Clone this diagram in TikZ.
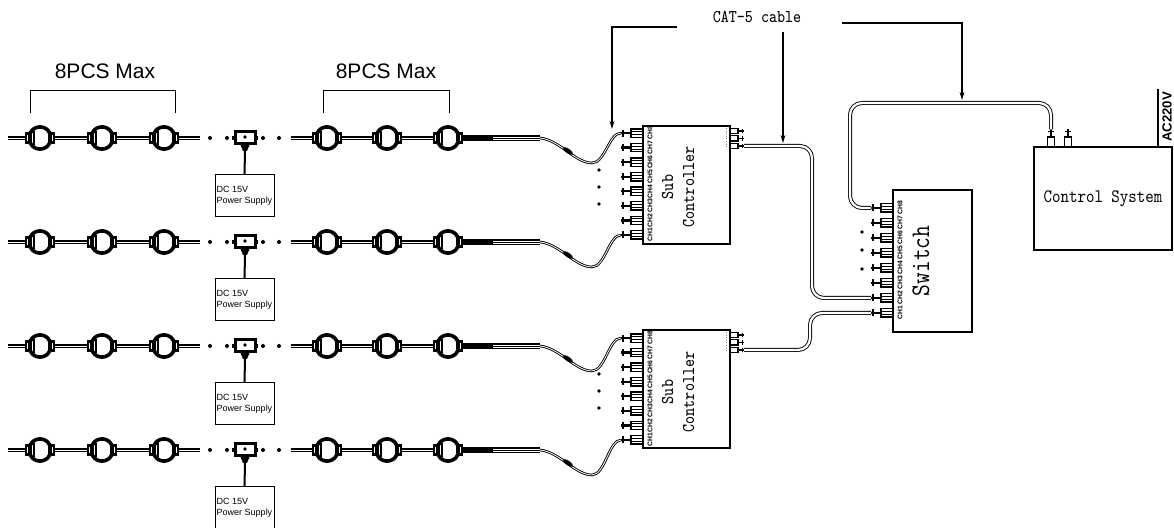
\documentclass[tikz,border=0pt]{standalone}
\usepackage{fontspec}
\usepackage{graphicx}
\usetikzlibrary{arrows.meta}
\newfontfamily\arialfont{Liberation Sans}
\newcommand{\narrowtxt}[1]{\scalebox{0.85}[1]{#1}}
\tikzstyle{psbox} = [draw, line width=0.5pt, minimum width=29.5pt, minimum height=21pt,
    inner sep=0.6pt, align=left, font=\arialfont\fontsize{4.5}{5.5}\selectfont]
\tikzstyle{devbox} = [draw, line width=0.8pt, inner sep=0pt]
\tikzstyle{devtitle} = [font=\ttfamily\fontsize{9}{10.5}\selectfont, align=center, inner sep=0pt]
\tikzstyle{chlabel} = [font=\arialfont\bfseries\fontsize{3.4}{3.4}\selectfont, rotate=90, inner sep=0pt]
\tikzstyle{countlabel} = [font=\arialfont\fontsize{10.5}{12}\selectfont]
\tikzstyle{strand} = [line width=1pt, double=white, double distance=0.4pt]
\tikzstyle{wire} = [line width=0.45pt, double=white, double distance=0.4pt]
\tikzstyle{cable} = [line width=0.45pt, double=white, double distance=1.1pt, rounded corners=6pt]
\tikzstyle{lead} = [line width=0.8pt, -{Stealth[length=4pt,width=2.4pt]}]
\tikzset{
  light/.pic={
    \draw[line width=1.3pt, fill=white] (-14,-4.5) rectangle (-10,4.5);
    \draw[line width=1.3pt, fill=white] (10,-4.5) rectangle (14,4.5);
    \draw[line width=1.8pt, fill=white, rounded corners=1.5pt] (-4,-11) -- (4,-11) -- (10,-6) -- (10,6)
        -- (4,11) -- (-4,11) -- (-10,6) -- (-10,-6) -- cycle;
    \draw[line width=1.1pt] (-6,-7) -- (-6,7);
  },
  tee/.pic={
    \draw[line width=2pt] (-13,0) -- (13,0);
    \draw[line width=1.5pt, fill=white] (-10,-6) rectangle (10,6);
    \fill (0,-1) circle (1.8);
    \fill (-5,6) -- (5,6) -- (2,13) -- (-2,13) -- cycle;
    \coordinate (-s) at (0,13);
  },
  jack/.pic={
    \draw[line width=0.7pt, fill=white] (-12,-4.2) rectangle (0,4.2);
    \draw[line width=0.5pt] (-12,-1.5) -- (0,-1.5) (-12,1.5) -- (0,1.5);
    \draw[line width=1.1pt] (-12,0) -- (-22,0);
    \draw[line width=1pt] (-20,-3.5) -- (-20,3.5);
    \coordinate (-end) at (-22,0);
  },
  smalljack/.pic={
    \draw[line width=0.6pt, fill=white] (-8,-2.6) rectangle (0,2.6);
    \draw[line width=0.9pt] (-8,0) -- (-14,0);
    \draw[line width=0.8pt] (-12.5,-2.4) -- (-12.5,2.4);
    \coordinate (-end) at (-14,0);
  }
}
\begin{document}
\begin{tikzpicture}[x=0.5pt, y=-0.5pt]
\useasboundingbox (0,0) rectangle (1174,528);

\node[countlabel] (pcs1) at (105,71) {8PCS Max};
\node[countlabel] (pcs2) at (386,71) {8PCS Max};
\draw[line width=0.4pt] (30,113) |- (175,90) -- (175,113);
\draw[line width=0.4pt] (323,113) |- (449,90) -- (449,113);

% sub controllers and switch
\node[devbox, minimum width=43.5pt, minimum height=59pt] (sc1) at (686.5,185) {};
\node[devbox, minimum width=43.5pt, minimum height=59pt] (sc2) at (686.5,389) {};
\node[devtitle, rotate=90] (sc1t) at (678,187) {\narrowtxt{Sub}\\\narrowtxt{Controller}};
\node[devtitle, rotate=90] (sc2t) at (678,392) {\narrowtxt{Sub}\\\narrowtxt{Controller}};
\node[devbox, minimum width=39.5pt, minimum height=71pt] (sw) at (932.5,261) {};
\node[devtitle, font=\ttfamily\fontsize{13.4}{14}\selectfont, rotate=90] (swt) at (921,261) {\narrowtxt{Switch}};

\foreach \i in {1,...,8} {
  \pic (sc1j\i) at (643,{235-(\i-1)*14.57}) {jack};
  \pic (sc2j\i) at (643,{440-(\i-1)*14.57}) {jack};
  \pic (swj\i) at (893,{313-(\i-1)*15}) {jack};
  \node[chlabel] (sc1l\i) at (650,{235-(\i-1)*14.57}) {CH\i};
  \node[chlabel] (sc2l\i) at (650,{440-(\i-1)*14.57}) {CH\i};
  \node[chlabel] (swl\i) at (900,{313-(\i-1)*15}) {CH\i};
}
\foreach \k/\d in {1/5,2/12.5,3/20} {
  \pic[rotate=180] (sc1o\k) at (730,{126+\d}) {smalljack};
  \pic[rotate=180] (sc2o\k) at (730,{330+\d}) {smalljack};
}
\draw[gray, densely dotted, line width=0.3pt] (726,128) -- (726,147);
\draw[gray, densely dotted, line width=0.3pt] (726,332) -- (726,351);
\foreach \dy in {44,61,78} {
  \fill (599,{126+\dy}) circle (1.8);
  \fill (599,{330+\dy}) circle (1.8);
}
\foreach \yy in {232,250,269} \fill (862,\yy) circle (1.8);

% control system
\node[devbox, minimum width=69pt, minimum height=51.5pt, font=\ttfamily\fontsize{9.5}{10.5}\selectfont]
    (cs) at (1103,198.5) {\narrowtxt{Control System}};
\pic[rotate=-90, scale=1.25] (csj1) at (1051,147) {smalljack};
\pic[rotate=-90, scale=1.25] (csj2) at (1068,147) {smalljack};
\draw[line width=0.8pt] (cs.north east) ++(-15,0) -- ++(0,-57);
\node[font=\arialfont\bfseries\fontsize{6.6}{7}\selectfont, rotate=90, inner sep=0pt] (ac) at (1167,117) {AC220V};

\draw[cable] (sc1o3-end) -- ++(68,0) |- (swj2-end);
\draw[cable] (sc2o3-end) -- ++(66,0) |- (swj1-end);
\draw[cable] (swj8-end) -- ++(-21,0) -- ++(0,-105) -| (csj1-end);

% CAT-5 leaders
\node[devtitle] (cat) at (757,17) {\narrowtxt{CAT-5 cable}};
\coordinate (catL) at (677,27);
\coordinate (catM) at (783,32);
\coordinate (catR) at (842,23);
\coordinate (tipL) at (612,129);
\coordinate (tipM) at (783,143);
\coordinate (tipR) at (962,100);
\draw[lead] (catL) -| (tipL);
\draw[lead] (catM) -- (tipM);
\draw[lead] (catR) -| (tipR);

% light strings
\foreach \r/\y/\p in {1/138/sc1j8, 2/242/sc1j1, 3/346/sc2j8, 4/450/sc2j1} {
  \draw[strand] (8,\y) -- (200,\y);
  \draw[strand] (291,\y) -- (462,\y);
  \foreach \lx in {40,102,164,327,387,448} \pic at (\lx,\y) {light};
  \foreach \dx in {210,227,263,279} \fill (\dx,\y) circle (2);
  \pic (t\r) at (245,\y) {tee};
  \node[psbox] (ps\r) at (244.5,{\y+58}) {DC 15V\\Power Supply};
  \draw[line width=1pt] (t\r-s) -- (ps\r.north);
  \draw[line width=2.6pt] (462,\y) -- (540,\y) coordinate (w\r);
  \draw[white, line width=0.3pt] (493,{\y-1}) -- (540,{\y-1}) (493,{\y+1}) -- (540,{\y+1});
  \draw[wire] (w\r) .. controls +(20,2) and +(-17,0) .. (592,{\y+25})
      .. controls +(13,0) and +(-12,0) .. (\p-end);
  \fill[rotate around={-35:(568,{\y+13})}] (568,{\y+13}) ellipse [x radius=6, y radius=2.2];
}
\end{tikzpicture}
\end{document}
